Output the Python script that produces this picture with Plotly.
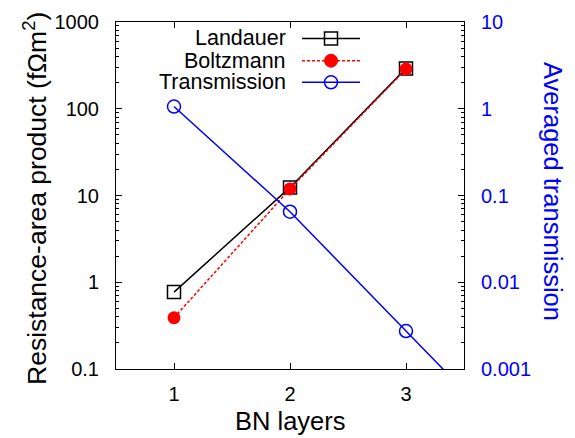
import plotly.graph_objects as go

# ---- data ----
layers = [1, 2, 3]
landauer = [0.77, 12.4, 292]
boltzmann = [0.39, 11.9, 287]
trans_layers = [1, 2, 3, 4]
transmission = [1.06, 0.065, 0.00274, 0.000116]

left_tick_vals = [0.1, 1, 10, 100, 1000]
left_tick_text = ["0.1", "1", "10", "100", "1000"]
right_tick_vals = [0.001, 0.01, 0.1, 1, 10]
right_tick_text = ["0.001", "0.01", "0.1", "1", "10"]
x_tick_vals = [1, 2, 3]
x_tick_text = ["1", "2", "3"]

x_title = "BN layers"
y_title = "Resistance-area product (fΩm<sup>2</sup>)"
y2_title = "Averaged transmission"
legend_names = ["Landauer", "Boltzmann", "Transmission"]

FONT = "Liberation Sans"
BLUE = "#0000ff"
RED = "#ff0000"
TICK_SIZE = 20
TITLE_SIZE = 25.5
LEG_SIZE = 21.5

fig = go.Figure()
fig.add_trace(go.Scatter(x=layers, y=landauer, mode="lines+markers", name=legend_names[0],
                         line=dict(color="black", width=1.5),
                         marker=dict(symbol="square-open", size=13, color="black", line=dict(width=1.5))))
fig.add_trace(go.Scatter(x=layers, y=boltzmann, mode="lines+markers", name=legend_names[1],
                         line=dict(color=RED, width=1.5, dash="3px,2px"),
                         marker=dict(symbol="circle", size=13, color=RED)))
fig.add_trace(go.Scatter(x=trans_layers, y=transmission, mode="lines+markers", name=legend_names[2],
                         yaxis="y2",
                         line=dict(color=BLUE, width=1.5),
                         marker=dict(symbol="circle-open", size=13, color=BLUE, line=dict(width=1.5))))

W, H = 575, 438
L, R, T, B = 116, 464, 22, 369

fig.update_layout(
    width=W, height=H,
    margin=dict(l=L, r=W - R, t=T, b=H - B, autoexpand=False),
    paper_bgcolor="white", plot_bgcolor="white",
    showlegend=False,
    font=dict(family=FONT, size=TICK_SIZE, color="black"),
    xaxis=dict(range=[0.5, 3.5], tickvals=x_tick_vals, ticktext=x_tick_text,
               ticks="inside", ticklen=6, tickcolor="black", tickwidth=1,
               ticklabelstandoff=7,
               showline=True, linecolor="black", linewidth=1, mirror="ticks",
               showgrid=False, zeroline=False, automargin=False),
    yaxis=dict(type="log", range=[-1, 3], tickvals=left_tick_vals, ticktext=left_tick_text,
               ticks="inside", ticklen=6, tickcolor="black", tickwidth=1,
               ticklabelstandoff=12,
               minor=dict(ticks="inside", ticklen=3, tickcolor="black", dtick="D1", showgrid=False),
               showline=True, linecolor="black", linewidth=1, mirror=True,
               showgrid=False, zeroline=False, automargin=False),
    yaxis2=dict(type="log", range=[-3, 1], overlaying="y", side="right",
                tickvals=right_tick_vals, ticktext=right_tick_text,
                ticks="inside", ticklen=6, tickcolor="black", tickwidth=1,
                ticklabelstandoff=16,
                minor=dict(ticks="inside", ticklen=3, tickcolor="black", dtick="D1", showgrid=False),
                tickfont=dict(color=BLUE),
                showline=False, showgrid=False, zeroline=False, automargin=False),
)

def px(xp):
    return (xp - L) / (R - L)

def py(yp):
    return (B - yp) / (B - T)

# axis titles as annotations (right one reads top-to-bottom as in the reference)
fig.add_annotation(x=px(290.5), y=py(421), xref="paper", yref="paper", text=x_title,
                   showarrow=False, xanchor="center", yanchor="middle",
                   font=dict(size=TITLE_SIZE, color="black"))
fig.add_annotation(x=px(35), y=py(199), xref="paper", yref="paper", text=y_title,
                   showarrow=False, xanchor="center", yanchor="middle", textangle=-90,
                   font=dict(size=26.5, color="black"))
fig.add_annotation(x=px(553), y=py(191), xref="paper", yref="paper", text=y2_title,
                   showarrow=False, xanchor="center", yanchor="middle", textangle=90,
                   font=dict(size=TITLE_SIZE, color=BLUE))

# ---- legend (gnuplot style: text right-aligned, sample to the right) ----
legend_rows = [38.5, 60.7, 82.3]
legend_colors = ["black", RED, BLUE]
legend_dash = ["solid", "3px,2px", "solid"]
legend_marks = ["square", "filled", "open"]
text_right = px(288)
lx0, lx1, mx = px(302), px(360), px(331)
for name, yy, col, dash, mk in zip(legend_names, legend_rows, legend_colors, legend_dash, legend_marks):
    y = py(yy)
    fig.add_annotation(x=text_right, y=y, xref="paper", yref="paper", text=name,
                       showarrow=False, xanchor="right", yanchor="middle",
                       font=dict(size=LEG_SIZE, color="black"))
    fig.add_shape(type="line", xref="paper", yref="paper", x0=lx0, x1=lx1, y0=y, y1=y,
                  line=dict(color=col, width=1.5, dash=dash))
    s = 6.5
    if mk == "square":
        fig.add_shape(type="rect", xref="paper", yref="paper", xsizemode="pixel", ysizemode="pixel",
                      xanchor=mx, yanchor=y, x0=-s, x1=s, y0=-s, y1=s,
                      line=dict(color=col, width=1.5), fillcolor="rgba(0,0,0,0)")
    elif mk == "filled":
        fig.add_shape(type="circle", xref="paper", yref="paper", xsizemode="pixel", ysizemode="pixel",
                      xanchor=mx, yanchor=y, x0=-s, x1=s, y0=-s, y1=s,
                      line=dict(color=col, width=1), fillcolor=col)
    else:
        fig.add_shape(type="circle", xref="paper", yref="paper", xsizemode="pixel", ysizemode="pixel",
                      xanchor=mx, yanchor=y, x0=-s, x1=s, y0=-s, y1=s,
                      line=dict(color=col, width=1.5), fillcolor="rgba(0,0,0,0)")

fig.write_html("out.html", config={"displayModeBar": False},
               post_script="document.body.style.margin='0';document.body.style.padding='0';")
